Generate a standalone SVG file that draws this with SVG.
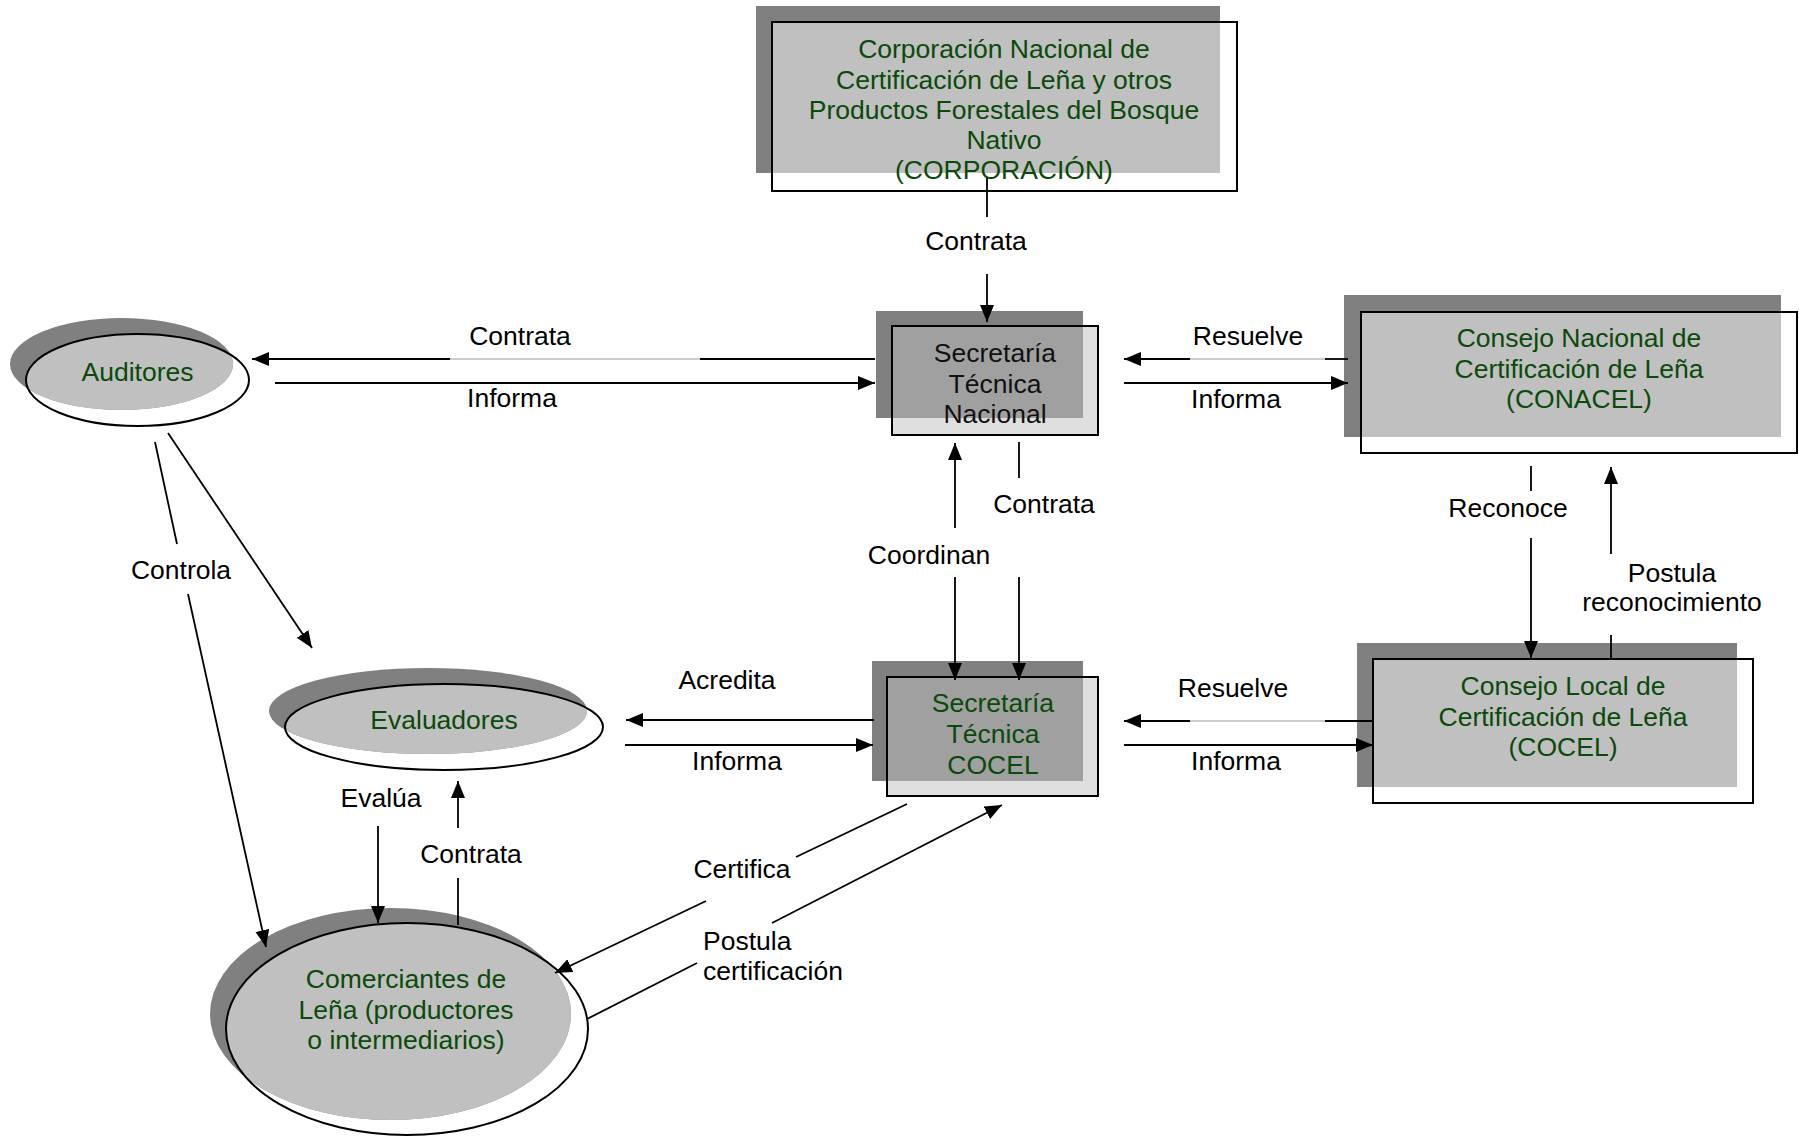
<svg xmlns="http://www.w3.org/2000/svg" width="1799" height="1136" viewBox="0 0 1799 1136">
<style>
text{font-family:"Liberation Sans",Arial,sans-serif;font-size:26.5px;text-anchor:middle}
.n{fill:#0a4a0a}
.k{fill:#111}
.lb{fill:#000}
.sh{fill:#808080}
.lt{fill:#c0c0c0}
.ol{fill:none;stroke:#000;stroke-width:2}
.tr{fill:#c0c0c0;fill-opacity:0.5;stroke:#000;stroke-width:2}
.c{fill:none;stroke:#000;stroke-width:1.8}
.g{fill:none;stroke:#9a9a9a;stroke-width:1}
.a{marker-end:url(#ah)}
</style>
<defs>
<marker id="ah" markerUnits="userSpaceOnUse" markerWidth="18" markerHeight="15" refX="17" refY="7" orient="auto"><path d="M0,0 L17,7 L0,14 z" fill="#000"/></marker>
<clipPath id="cpAud"><ellipse cx="137.5" cy="380" rx="111.5" ry="46"/></clipPath>
<clipPath id="cpEva"><ellipse cx="444" cy="727" rx="159" ry="43"/></clipPath>
<clipPath id="cpCom"><ellipse cx="407" cy="1029" rx="181" ry="106"/></clipPath>
</defs>
<rect width="1799" height="1136" fill="#fff"/>

<g id="corporacion">
<rect class="sh" x="756" y="6" width="464" height="167"/>
<rect class="lt" x="772" y="22" width="448" height="151"/>
<rect class="ol" x="772" y="22" width="465" height="169"/>
<text class="n" x="1004" y="58">Corporación Nacional de</text>
<text class="n" x="1004" y="89">Certificación de Leña y otros</text>
<text class="n" x="1004" y="119">Productos Forestales del Bosque</text>
<text class="n" x="1004" y="149">Nativo</text>
<text class="n" x="1004" y="179">(CORPORACIÓN)</text>
</g>

<g id="auditores">
<ellipse class="sh" cx="121.5" cy="364" rx="111.5" ry="46"/>
<ellipse class="lt" cx="121.5" cy="364" rx="111.5" ry="46" clip-path="url(#cpAud)"/>
<ellipse class="ol" cx="137.5" cy="380" rx="111.5" ry="46"/>
<text class="n" x="137.5" y="381">Auditores</text>
</g>

<g id="stn">
<rect class="sh" x="876" y="311" width="207" height="107"/>
<rect class="tr" x="892" y="326" width="206" height="109"/>
<text class="k" x="995" y="362">Secretaría</text>
<text class="k" x="995" y="393">Técnica</text>
<text class="k" x="995" y="423">Nacional</text>
</g>

<g id="conacel">
<rect class="sh" x="1344" y="295" width="437" height="142"/>
<rect class="lt" x="1361" y="312" width="420" height="125"/>
<rect class="ol" x="1361" y="312" width="436" height="141"/>
<text class="n" x="1579" y="347">Consejo Nacional de</text>
<text class="n" x="1579" y="378">Certificación de Leña</text>
<text class="n" x="1579" y="408">(CONACEL)</text>
</g>

<g id="evaluadores">
<ellipse class="sh" cx="428" cy="711" rx="159" ry="43"/>
<ellipse class="lt" cx="428" cy="711" rx="159" ry="43" clip-path="url(#cpEva)"/>
<ellipse class="ol" cx="444" cy="727" rx="159" ry="43"/>
<text class="n" x="444" y="729">Evaluadores</text>
</g>

<g id="stc">
<rect class="sh" x="872" y="661" width="211" height="120"/>
<rect class="tr" x="887" y="677" width="211" height="119"/>
<text class="n" x="993" y="712">Secretaría</text>
<text class="n" x="993" y="743">Técnica</text>
<text class="n" x="993" y="774">COCEL</text>
</g>

<g id="cocel">
<rect class="sh" x="1357" y="643" width="380" height="144"/>
<rect class="lt" x="1373" y="659" width="364" height="128"/>
<rect class="ol" x="1373" y="659" width="380" height="144"/>
<text class="n" x="1563" y="695">Consejo Local de</text>
<text class="n" x="1563" y="726">Certificación de Leña</text>
<text class="n" x="1563" y="756">(COCEL)</text>
</g>

<g id="comerciantes">
<ellipse class="sh" cx="390.5" cy="1014" rx="180.5" ry="106"/>
<ellipse class="lt" cx="390.5" cy="1014" rx="180.5" ry="106" clip-path="url(#cpCom)"/>
<ellipse class="ol" cx="407" cy="1029" rx="181" ry="106"/>
<text class="n" x="406" y="988">Comerciantes de</text>
<text class="n" x="406" y="1019">Leña (productores</text>
<text class="n" x="406" y="1049">o intermediarios)</text>
</g>

<g id="connectors">
<line class="c" x1="987" y1="178" x2="987" y2="217"/>
<line class="c a" x1="987" y1="274" x2="987" y2="322"/>
<text class="lb" x="976" y="250">Contrata</text>

<line class="c" x1="875" y1="359" x2="700" y2="359"/>
<line class="g" x1="700" y1="359" x2="450" y2="359"/>
<line class="c a" x1="450" y1="359" x2="252" y2="359"/>
<text class="lb" x="520" y="345">Contrata</text>
<line class="c a" x1="275" y1="383" x2="875" y2="383"/>
<text class="lb" x="512" y="407">Informa</text>

<line class="c" x1="1348" y1="359" x2="1325" y2="359"/>
<line class="g" x1="1325" y1="359" x2="1190" y2="359"/>
<line class="c a" x1="1190" y1="359" x2="1124" y2="359"/>
<text class="lb" x="1248" y="345">Resuelve</text>
<line class="c a" x1="1124" y1="383" x2="1348" y2="383"/>
<text class="lb" x="1236" y="408">Informa</text>

<line class="c" x1="1019" y1="442" x2="1019" y2="478"/>
<line class="c a" x1="1019" y1="577" x2="1019" y2="680"/>
<text class="lb" x="1044" y="513">Contrata</text>

<line class="c a" x1="955" y1="528" x2="955" y2="443"/>
<line class="c a" x1="955" y1="577" x2="955" y2="680"/>
<text class="lb" x="929" y="564">Coordinan</text>

<line class="c" x1="1531" y1="466" x2="1531" y2="491"/>
<line class="c a" x1="1531" y1="538" x2="1531" y2="658"/>
<text class="lb" x="1508" y="517">Reconoce</text>

<line class="c" x1="1611" y1="660" x2="1611" y2="635"/>
<line class="c a" x1="1611" y1="554" x2="1611" y2="467"/>
<text class="lb" x="1672" y="582">Postula</text>
<text class="lb" x="1672" y="611">reconocimiento</text>

<line class="c" x1="1373" y1="721" x2="1325" y2="721"/>
<line class="g" x1="1325" y1="721" x2="1190" y2="721"/>
<line class="c a" x1="1190" y1="721" x2="1124" y2="721"/>
<text class="lb" x="1233" y="697">Resuelve</text>
<line class="c a" x1="1124" y1="745" x2="1373" y2="745"/>
<text class="lb" x="1236" y="770">Informa</text>

<line class="c a" x1="874" y1="720" x2="626" y2="720"/>
<text class="lb" x="727" y="689">Acredita</text>
<line class="c a" x1="625" y1="745" x2="873" y2="745"/>
<text class="lb" x="737" y="770">Informa</text>

<line class="c a" x1="378" y1="826" x2="378" y2="923"/>
<text class="lb" x="381" y="807">Evalúa</text>
<line class="c" x1="458" y1="925" x2="458" y2="878"/>
<line class="c a" x1="458" y1="828" x2="458" y2="781"/>
<text class="lb" x="471" y="863">Contrata</text>

<line class="c a" x1="168" y1="433" x2="312" y2="648"/>

<line class="c" x1="155" y1="442" x2="177" y2="544"/>
<line class="c a" x1="188" y1="594" x2="266" y2="947"/>
<text class="lb" x="181" y="579">Controla</text>

<line class="c" x1="907" y1="804" x2="796" y2="857"/>
<line class="c a" x1="706" y1="901" x2="555" y2="973"/>
<text class="lb" x="742" y="878">Certifica</text>

<line class="c" x1="587" y1="1019" x2="697" y2="963"/>
<line class="c a" x1="772" y1="923" x2="1002" y2="805"/>
<text class="lb" x="703" y="950" style="text-anchor:start">Postula</text>
<text class="lb" x="703" y="980" style="text-anchor:start">certificación</text>
</g>
</svg>
